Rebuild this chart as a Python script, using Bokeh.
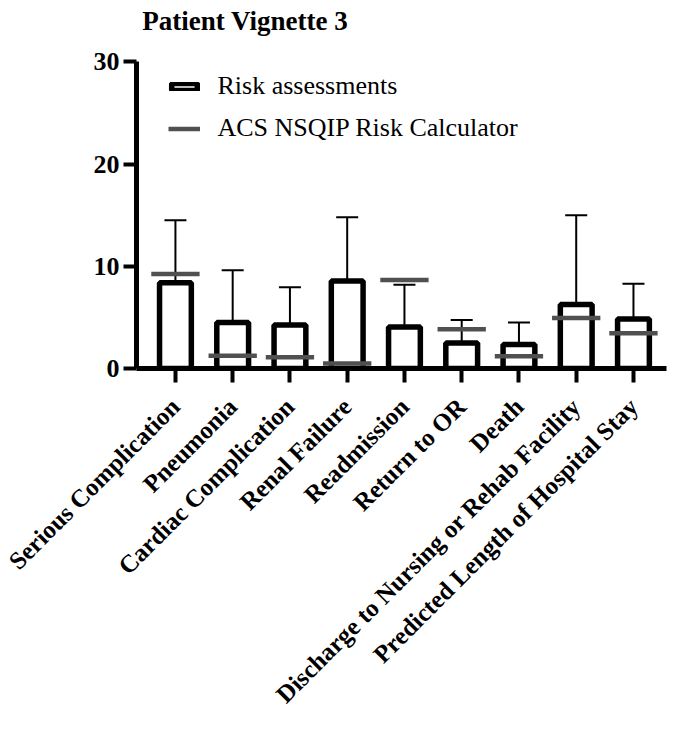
import math
from bokeh.plotting import figure
from bokeh.models import (Range1d, FixedTicker, Whisker, TeeHead, ColumnDataSource,
                          Legend, LegendItem, Label)
from bokeh.transform import dodge
from bokeh.embed import file_html
from bokeh.resources import INLINE

title_text = "Patient Vignette 3"
categories = ["Serious Complication", "Pneumonia", "Cardiac Complication", "Renal Failure",
              "Readmission", "Return to OR", "Death",
              "Discharge to Nursing or Rehab Facility", "Predicted Length of Hospital Stay"]
risk_mean = [8.4, 4.5, 4.25, 8.55, 4.05, 2.5, 2.35, 6.25, 4.85]
risk_upper = [14.5, 9.6, 7.95, 14.8, 8.2, 4.75, 4.5, 15.0, 8.3]
risk_lower = [2.6, 0.0, 0.55, 2.4, 0.0, 0.35, 0.3, 0.0, 1.5]
acs_nsqip = [9.25, 1.25, 1.1, 0.5, 8.65, 3.85, 1.2, 4.95, 3.45]
y_ticks = [0, 10, 20, 30]

FONT = "Liberation Serif"
GRAY = "#505050"

xpos = list(range(1, len(categories) + 1))
src = ColumnDataSource(dict(x=xpos, mean=risk_mean, upper=risk_upper, lower=risk_lower,
                            acs=acs_nsqip))

# frame extends to the top of the canvas; the y axis line is bounded to 0..30
p = figure(width=676, height=734, x_range=Range1d(0.32, 9.577), y_range=Range1d(0, 36),
           output_backend="svg", toolbar_location=None,
           min_border_left=136, min_border_right=10, min_border_top=0, min_border_bottom=366)
p.outline_line_color = None
p.grid.visible = False
p.background_fill_color = "white"
p.border_fill_color = "white"

title = Label(x=0.42, y=34.0, text=title_text,
              text_font=FONT, text_font_size="27px", text_font_style="bold",
              text_color="black", text_baseline="alphabetic", text_align="left")
p.add_layout(title)

bars = p.vbar(x="x", top="mean", bottom=0, width=0.555, source=src,
              fill_color="white", line_color="black", line_width=5.5)

wh = Whisker(base="x", upper="upper", lower="lower", source=src, line_color="black",
             line_width=2,
             upper_head=TeeHead(size=22, line_width=2, line_color="black"),
             lower_head=TeeHead(size=22, line_width=2, line_color="black"))
p.add_layout(wh)

acs = p.segment(x0=dodge("x", -0.422), x1=dodge("x", 0.422), y0="acs", y1="acs", source=src,
                line_color=GRAY, line_width=4.5, line_cap="butt")

# axes
p.yaxis.ticker = FixedTicker(ticks=y_ticks)
p.yaxis.bounds = (y_ticks[0], y_ticks[-1])
p.yaxis.minor_tick_line_color = None
p.yaxis.axis_line_width = 5
p.yaxis.major_tick_line_width = 4
p.yaxis.major_tick_out = 13
p.yaxis.major_tick_in = 0
p.yaxis.major_label_standoff = 4
p.yaxis.major_label_text_font = FONT
p.yaxis.major_label_text_font_size = "26px"
p.yaxis.major_label_text_font_style = "bold"
p.yaxis.major_label_text_color = "black"
p.yaxis.axis_line_color = "black"
p.yaxis.major_tick_line_color = "black"

p.xaxis.ticker = FixedTicker(ticks=xpos)
p.xaxis.major_label_overrides = {x: c for x, c in zip(xpos, categories)}
p.xaxis.minor_tick_line_color = None
p.xaxis.axis_line_width = 5
p.xaxis.major_tick_line_width = 4
p.xaxis.major_tick_out = 14
p.xaxis.major_tick_in = 0
p.xaxis.major_label_standoff = 20
p.xaxis.major_label_orientation = math.pi / 4
p.xaxis.major_label_text_font = FONT
p.xaxis.major_label_text_font_size = "25px"
p.xaxis.major_label_text_font_style = "bold"
p.xaxis.major_label_text_color = "black"
p.xaxis.axis_line_color = "black"
p.xaxis.major_tick_line_color = "black"

legend = Legend(items=[LegendItem(label="Risk assessments", renderers=[bars]),
                       LegendItem(label="ACS NSQIP Risk Calculator", renderers=[acs])],
                location=(31.5, 225), orientation="vertical",
                glyph_width=32, glyph_height=9, label_height=30, label_standoff=18,
                spacing=12, padding=0, margin=0,
                border_line_color=None, background_fill_alpha=0,
                label_text_font=FONT, label_text_font_size="26px", label_text_color="black")
p.add_layout(legend)

open("out.html", "w").write(file_html(p, INLINE))
